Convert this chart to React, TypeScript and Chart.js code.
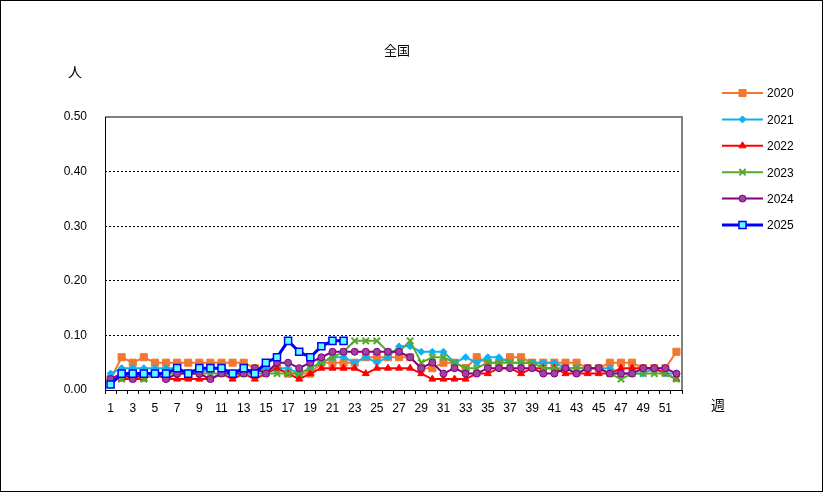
import React, { useEffect, useRef } from 'react';
import { Chart, registerables } from 'chart.js';
import { drawPoint } from 'chart.js/helpers';

Chart.register(...registerables);

const weeks = ['1','2','3','4','5','6','7','8','9','10','11','12','13','14','15','16','17','18','19','20','21','22','23','24','25','26','27','28','29','30','31','32','33','34','35','36','37','38','39','40','41','42','43','44','45','46','47','48','49','50','51','52'];
const yTicks = [0, 0.1, 0.2, 0.3, 0.4, 0.5];
const years = ['2020', '2021', '2022', '2023', '2024', '2025'];

const s2020 = [0.02,0.06,0.05,0.06,0.05,0.05,0.05,0.05,0.05,0.05,0.05,0.05,0.05,0.04,0.04,0.04,0.03,0.03,0.03,0.05,0.05,0.05,0.05,0.06,0.06,0.06,0.06,0.06,0.04,0.04,0.05,0.05,0.04,0.06,0.05,0.05,0.06,0.06,0.05,0.05,0.05,0.05,0.05,0.04,0.04,0.05,0.05,0.05,0.04,0.04,0.04,0.07];
const s2021 = [0.03,0.04,0.04,0.04,0.04,0.04,0.04,0.03,0.03,0.04,0.04,0.03,0.03,0.03,0.04,0.04,0.04,0.03,0.04,0.05,0.06,0.06,0.05,0.06,0.05,0.06,0.08,0.08,0.07,0.07,0.07,0.05,0.06,0.05,0.06,0.06,0.05,0.05,0.05,0.05,0.05,0.04,0.04,0.04,0.04,0.04,0.03,0.03,0.03,0.04,0.03,0.03];
const s2022 = [0.02,0.02,0.02,0.02,0.03,0.02,0.02,0.02,0.02,0.02,0.03,0.02,0.03,0.02,0.03,0.04,0.03,0.02,0.03,0.04,0.04,0.04,0.04,0.03,0.04,0.04,0.04,0.04,0.03,0.02,0.02,0.02,0.02,0.03,0.03,0.04,0.04,0.03,0.04,0.04,0.04,0.03,0.03,0.03,0.03,0.03,0.04,0.04,0.04,0.04,0.03,0.02];
const s2023 = [0.02,0.02,0.03,0.02,0.03,0.03,0.03,0.03,0.03,0.03,0.03,0.03,0.03,0.03,0.03,0.03,0.03,0.03,0.04,0.05,0.06,0.07,0.09,0.09,0.09,0.07,0.07,0.09,0.05,0.06,0.06,0.05,0.04,0.04,0.05,0.05,0.05,0.05,0.05,0.04,0.04,0.04,0.04,0.04,0.04,0.03,0.02,0.03,0.03,0.03,0.03,0.02];
const s2024 = [0.02,0.03,0.02,0.03,0.03,0.02,0.03,0.03,0.03,0.02,0.03,0.03,0.03,0.04,0.03,0.05,0.05,0.04,0.05,0.06,0.07,0.07,0.07,0.07,0.07,0.07,0.07,0.06,0.04,0.05,0.03,0.04,0.03,0.03,0.04,0.04,0.04,0.04,0.04,0.03,0.03,0.04,0.03,0.04,0.04,0.03,0.03,0.03,0.04,0.04,0.04,0.03];
const s2025 = [0.01,0.03,0.03,0.03,0.03,0.03,0.04,0.03,0.04,0.04,0.04,0.03,0.04,0.03,0.05,0.06,0.09,0.07,0.06,0.08,0.09,0.09,null,null,null,null,null,null,null,null,null,null,null,null,null,null,null,null,null,null,null,null,null,null,null,null,null,null,null,null,null,null];

const FONT = '"Liberation Sans", "Noto Sans CJK JP", sans-serif';
const CJK = '"Noto Sans CJK JP", sans-serif';

const overlay = {
  id: 'overlay',
  beforeDatasetsDraw(chart: any) {
    const { ctx, chartArea: a } = chart;
    ctx.save();
    ctx.strokeStyle = '#808080';
    ctx.lineWidth = 2;
    ctx.beginPath();
    ctx.moveTo(a.left, a.top);
    ctx.lineTo(a.right, a.top);
    ctx.lineTo(a.right, a.bottom);
    ctx.stroke();
    ctx.strokeStyle = '#000';
    ctx.lineWidth = 1;
    ctx.beginPath();
    ctx.moveTo(a.left + 0.5, a.top);
    ctx.lineTo(a.left + 0.5, a.bottom + 0.5);
    ctx.lineTo(a.right, a.bottom + 0.5);
    ctx.stroke();
    ctx.restore();
  },
  afterDraw(chart: any) {
    const { ctx } = chart;
    ctx.save();
    ctx.fillStyle = '#000';
    ctx.textAlign = 'center';
    ctx.textBaseline = 'middle';
    ctx.font = `13px ${CJK}`;
    ctx.fillText('全国', 396, 49);
    ctx.font = `14px ${CJK}`;
    ctx.fillText('人', 74, 71);
    ctx.fillText('週', 717, 404);

    chart.data.datasets.forEach((ds: any, i: number) => {
      const y = 92 + i * 26.4;
      ctx.save();
      ctx.strokeStyle = ds.borderColor;
      ctx.lineWidth = ds.borderWidth;
      ctx.beginPath();
      ctx.moveTo(721, y);
      ctx.lineTo(762, y);
      ctx.stroke();
      ctx.fillStyle = ds.pointBackgroundColor;
      ctx.strokeStyle = ds.pointBorderColor;
      ctx.lineWidth = ds.pointBorderWidth;
      drawPoint(ctx, { pointStyle: ds.pointStyle, radius: ds.pointRadius, rotation: 0, borderWidth: ds.pointBorderWidth }, 741.5, y);
      ctx.restore();
      ctx.fillStyle = '#000';
      ctx.font = `12px ${FONT}`;
      ctx.textAlign = 'left';
      ctx.textBaseline = 'middle';
      ctx.fillText(ds.label, 766, y + 1);
    });
    ctx.restore();
  },
};

export default function App() {
  const ref = useRef<HTMLCanvasElement>(null);
  useEffect(() => {
    if (!ref.current) return;
    const mk = (label: string, data: any[], color: string, style: string, radius: number, fill: string, bw: number, pbw: number, order: number) => ({
      label,
      data,
      borderColor: color,
      backgroundColor: fill,
      borderWidth: bw,
      pointStyle: style,
      pointRadius: radius,
      pointHoverRadius: radius,
      pointBackgroundColor: fill,
      pointBorderColor: color,
      pointBorderWidth: pbw,
      tension: 0,
      spanGaps: false,
      order,
    });
    const chart = new Chart(ref.current, {
      type: 'line',
      data: {
        labels: weeks,
        datasets: [
          mk(years[0], s2020, '#F07830', 'rect', 5, '#F07830', 2, 1, 6),
          mk(years[1], s2021, '#10B0F0', 'rectRot', 3.5, '#10B0F0', 2, 1, 5),
          mk(years[2], s2022, '#FF0000', 'triangle', 4, '#FF0000', 2, 1, 4),
          mk(years[3], s2023, '#58A830', 'crossRot', 4.5, '#58A830', 2, 2, 3),
          mk(years[4], s2024, '#800080', 'circle', 3.5, '#A040A0', 2, 1, 2),
          mk(years[5], s2025, '#0000FF', 'rect', 5, '#60FFFF', 3, 1.5, 1),
        ] as any,
      },
      options: {
        animation: false,
        responsive: false,
        devicePixelRatio: 1,
        layout: { padding: { left: 0, top: 116, right: 140, bottom: 0 } },
        plugins: { legend: { display: false }, title: { display: false }, tooltip: { enabled: false } },
        scales: {
          x: {
            type: 'category',
            offset: true,
            afterFit: (s: any) => { s.height = 101; },
            grid: { display: true, drawOnChartArea: false, drawTicks: true, tickLength: 4, color: '#000', offset: true },
            border: { display: false },
            ticks: {
              autoSkip: false,
              maxRotation: 0,
              minRotation: 0,
              padding: 7,
              color: '#000',
              font: { family: FONT, size: 12 },
              callback: (_v: any, i: number) => (i % 2 === 0 ? weeks[i] : ''),
            },
          },
          y: {
            min: yTicks[0],
            max: yTicks[yTicks.length - 1],
            afterFit: (s: any) => { s.width = 104; },
            afterBuildTicks: (s: any) => { s.ticks = yTicks.map((v) => ({ value: v })); },
            grid: {
              drawTicks: false,
              lineWidth: 1,
              color: (c: any) => (c.tick && c.tick.value > 0.001 && c.tick.value < 0.499 ? '#000' : 'rgba(0,0,0,0)'),
            },
            border: { display: false, dash: [2, 2] },
            ticks: {
              padding: 18,
              color: '#000',
              font: { family: FONT, size: 12 },
              callback: (v: any) => Number(v).toFixed(2),
            },
          },
        },
      },
      plugins: [overlay],
    } as any);
    return () => chart.destroy();
  }, []);
  return (
    <div style={{ position: 'absolute', left: 0, top: 0, width: 823, height: 492, border: '1px solid #000', boxSizing: 'border-box', background: '#fff' }}>
      <canvas ref={ref} width={821} height={490} style={{ display: 'block', width: 821, height: 490 }} />
    </div>
  );
}
